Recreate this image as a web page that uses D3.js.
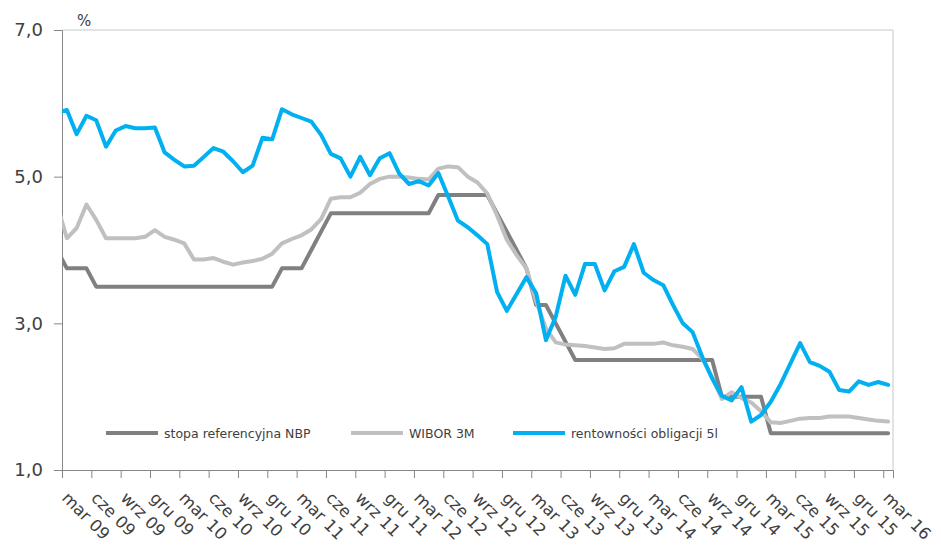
<!DOCTYPE html>
<html>
<head>
<meta charset="utf-8">
<script src="https://cdn.jsdelivr.net/npm/d3@7"></script>
<style>
  body { margin: 0; background: #fff; }
  text { font-family: "DejaVu Sans", sans-serif; fill: #404040; }
</style>
</head>
<body>
<div id="chart"></div>
<script>
// months lut 09 .. mar 16 (first one lies left of the plot and gets clipped)
const months = [
  "lut 09","mar 09","kwi 09","maj 09","cze 09","lip 09","sie 09","wrz 09","paź 09","lis 09","gru 09",
  "sty 10","lut 10","mar 10","kwi 10","maj 10","cze 10","lip 10","sie 10","wrz 10","paź 10","lis 10","gru 10",
  "sty 11","lut 11","mar 11","kwi 11","maj 11","cze 11","lip 11","sie 11","wrz 11","paź 11","lis 11","gru 11",
  "sty 12","lut 12","mar 12","kwi 12","maj 12","cze 12","lip 12","sie 12","wrz 12","paź 12","lis 12","gru 12",
  "sty 13","lut 13","mar 13","kwi 13","maj 13","cze 13","lip 13","sie 13","wrz 13","paź 13","lis 13","gru 13",
  "sty 14","lut 14","mar 14","kwi 14","maj 14","cze 14","lip 14","sie 14","wrz 14","paź 14","lis 14","gru 14",
  "sty 15","lut 15","mar 15","kwi 15","maj 15","cze 15","lip 15","sie 15","wrz 15","paź 15","lis 15","gru 15",
  "sty 16","lut 16","mar 16"
];

const tickLabels = [
  "mar 09","cze 09","wrz 09","gru 09","mar 10","cze 10","wrz 10","gru 10",
  "mar 11","cze 11","wrz 11","gru 11","mar 12","cze 12","wrz 12","gru 12",
  "mar 13","cze 13","wrz 13","gru 13","mar 14","cze 14","wrz 14","gru 14",
  "mar 15","cze 15","wrz 15","gru 15","mar 16"
];

const yTicks = [1, 3, 5, 7];

const nbp = [
  4.00,
  3.75,3.75,3.75,
  3.50,3.50,3.50,3.50,3.50,3.50,3.50,3.50,3.50,3.50,3.50,3.50,3.50,3.50,3.50,3.50,3.50,3.50,3.50,
  3.75,3.75,3.75,4.00,4.25,
  4.50,4.50,4.50,4.50,4.50,4.50,4.50,4.50,4.50,4.50,4.50,
  4.75,4.75,4.75,4.75,4.75,4.75,
  4.50,4.25,4.00,3.75,3.25,3.25,3.00,2.75,
  2.50,2.50,2.50,2.50,2.50,2.50,2.50,2.50,2.50,2.50,2.50,2.50,2.50,2.50,2.50,
  2.00,2.00,2.00,2.00,2.00,
  1.50,1.50,1.50,1.50,1.50,1.50,1.50,1.50,1.50,1.50,1.50,1.50,1.50
];

const wibor = [
  4.62,
  4.16,4.30,4.62,4.41,4.16,4.16,4.16,4.16,4.18,4.27,4.18,4.14,4.09,3.87,
  3.87,3.89,3.84,3.80,3.83,3.85,3.88,3.95,4.09,4.15,4.20,4.28,4.42,4.70,4.72,
  4.72,4.78,4.90,4.97,5.00,5.00,4.99,4.97,4.96,5.11,5.14,5.13,5.00,4.92,
  4.77,4.47,4.14,3.93,3.75,3.30,2.93,2.74,2.71,2.70,2.69,2.67,2.65,2.66,
  2.72,2.72,2.72,2.72,2.74,2.70,2.68,2.65,2.52,2.26,1.97,2.06,1.98,1.92,
  1.80,1.65,1.64,1.67,1.70,1.71,1.71,1.73,1.73,1.73,1.71,1.69,1.67,1.66
];

const bonds = [
  5.87,
  5.91,5.58,5.83,5.77,5.41,5.63,5.69,5.66,5.66,5.67,5.33,5.23,5.14,5.15,
  5.27,5.39,5.34,5.21,5.06,5.15,5.53,5.51,5.92,5.85,5.80,5.75,5.57,5.31,5.25,
  5.00,5.27,5.02,5.25,5.32,5.04,4.90,4.94,4.88,5.05,4.73,4.40,4.31,4.20,
  4.08,3.43,3.17,3.40,3.63,3.41,2.77,3.09,3.65,3.39,3.81,3.81,3.45,3.71,
  3.77,4.08,3.69,3.59,3.52,3.25,3.00,2.88,2.54,2.25,2.01,1.95,2.13,1.66,
  1.75,1.93,2.17,2.45,2.73,2.47,2.42,2.34,2.09,2.07,2.21,2.16,2.20,2.16
];

const seriesNames = ["stopa referencyjna NBP", "WIBOR 3M", "rentowności obligacji 5l"];
const seriesColors = ["#808080", "#c0c0c0", "#00b0f0"];

const W = 941, H = 552;
const plot = {left: 62, right: 893, top: 30, bottom: 470};

const svg = d3.select("#chart").append("svg")
  .attr("width", W)
  .attr("height", H);

// category index: 0 = mar 09 boundary, 85 = right edge; points sit mid-category
const x = d3.scaleLinear().domain([0, 85]).range([plot.left, plot.right]);
const y = d3.scaleLinear().domain([1, 7]).range([plot.bottom, plot.top]);

svg.append("defs").append("clipPath").attr("id", "clip")
  .append("rect")
  .attr("x", plot.left).attr("y", plot.top - 5)
  .attr("width", plot.right - plot.left).attr("height", plot.bottom - plot.top + 10);

// plot border (top / right)
svg.append("path")
  .attr("d", `M${plot.left},${plot.top}H${plot.right}V${plot.bottom}`)
  .attr("fill", "none")
  .attr("stroke", "#c8c8c8")
  .attr("stroke-width", 1);

// y axis
const locale = d3.formatLocale({decimal: ",", thousands: " ", grouping: [3], currency: ["", ""]});
const yAxis = d3.axisLeft(y).tickValues(yTicks).tickSize(8).tickPadding(11)
  .tickFormat(locale.format(".1f"));
const gy = svg.append("g")
  .attr("transform", `translate(${plot.left},0)`)
  .call(yAxis);
gy.select(".domain").attr("stroke", "#868686");
gy.selectAll(".tick line").attr("stroke", "#868686");
gy.selectAll(".tick text")
  .style("font-size", "18px")
  .attr("fill", "#404040");

// x axis with ticks on category boundaries every 3 months
const tickIdx = tickLabels.map((d, i) => i * 3);
const xAxis = d3.axisBottom(x).tickValues(tickIdx).tickSize(8).tickFormat("");
const gx = svg.append("g")
  .attr("transform", `translate(0,${plot.bottom})`)
  .call(xAxis);
gx.select(".domain").attr("stroke", "#868686");
gx.selectAll(".tick line").attr("stroke", "#868686");

svg.append("g").selectAll("text")
  .data(tickLabels)
  .join("text")
  .attr("transform", (d, i) => `translate(${x(tickIdx[i]) - 1},${plot.bottom + 29}) rotate(45)`)
  .style("font-size", "16.5px")
  .text(d => d);

svg.append("text")
  .attr("x", 77).attr("y", 26)
  .style("font-size", "15px")
  .text("%");

// lines
const line = d3.line()
  .x((d, i) => x(i - 0.5))
  .y(d => y(d));

const allSeries = [nbp, wibor, bonds];
svg.append("g").attr("clip-path", "url(#clip)")
  .selectAll("path")
  .data(allSeries)
  .join("path")
  .attr("d", d => line(d))
  .attr("fill", "none")
  .attr("stroke", (d, i) => seriesColors[i])
  .attr("stroke-width", 4)
  .attr("stroke-linejoin", "round")
  .attr("stroke-linecap", "round");

// legend
const legendX = [106, 351, 513];
const leg = svg.append("g").selectAll("g")
  .data(seriesNames)
  .join("g")
  .attr("transform", (d, i) => `translate(${legendX[i]},433)`);
leg.append("line")
  .attr("x1", 0).attr("x2", 52)
  .attr("stroke", (d, i) => seriesColors[i])
  .attr("stroke-width", 4);
leg.append("text")
  .attr("x", 58).attr("y", 4.5)
  .style("font-size", "12.5px")
  .text(d => d);
</script>
</body>
</html>
